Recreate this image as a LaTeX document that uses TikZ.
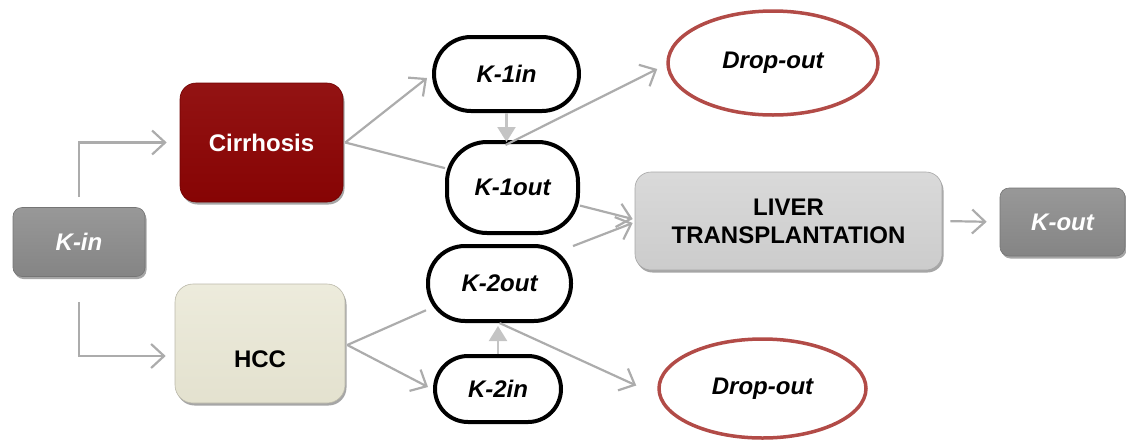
\documentclass[tikz,border=0pt]{standalone}
\usepackage{fontspec}
\setmainfont{Liberation Sans}
\usetikzlibrary{arrows.meta,shapes.geometric,shadows}
\definecolor{arrowgray}{RGB}{172,172,172}
\definecolor{tipgray}{RGB}{196,196,196}
\definecolor{kgray}{RGB}{138,138,138}
\definecolor{cirred}{RGB}{140,4,4}
\definecolor{hccbeige}{RGB}{232,230,211}
\definecolor{livergray}{RGB}{208,208,208}
\definecolor{dropred}{RGB}{178,75,71}
\tikzset{
  base/.style={inner sep=0pt, font=\fontsize{24}{28}\selectfont\bfseries, align=center},
  boxshadow/.style={drop shadow={shadow xshift=1.5pt, shadow yshift=-2.5pt, opacity=0.35, fill=black}},
  graybox/.style={base, boxshadow, rounded corners=9pt, top color=kgray!88!white, bottom color=kgray!96!black, draw=kgray!85!black, line width=0.6pt, text=white, font=\fontsize{24}{28}\selectfont\bfseries\itshape},
  cirbox/.style={base, boxshadow, rounded corners=16pt, top color=cirred!94!white, bottom color=cirred!96!black, draw=cirred!80!black, line width=0.6pt, text=white},
  hccbox/.style={base, boxshadow, rounded corners=18pt, top color=hccbeige!80!white, bottom color=hccbeige!98!black, draw=hccbeige!80!black, line width=0.6pt},
  liverbox/.style={base, boxshadow, rounded corners=16pt, top color=livergray!80!white, bottom color=livergray!98!black, draw=livergray!80!black, line width=0.6pt},
  kstate/.style={base, draw=black, line width=4pt, fill=white, font=\fontsize{24}{28}\selectfont\bfseries\itshape},
  dropbox/.style={base, ellipse, draw=dropred, line width=3.5pt, fill=white, font=\fontsize{24}{28}\selectfont\bfseries\itshape},
  conn/.style={draw=arrowgray, line width=2.2pt},
  opentip/.style={conn, -{Straight Barb[length=13pt,width=24pt,line width=2.2pt]}},
  filltip/.style={conn, draw=tipgray, -{Triangle[length=15pt,width=18pt,fill=tipgray]}}
}
\begin{document}
\begin{tikzpicture}[x=1pt,y=-1pt]
\useasboundingbox (0,0) rectangle (1126,445);

% boxes
\node[graybox, minimum width=132pt, minimum height=69pt] (kin) at (79,242) {K-in};
\node[cirbox, minimum width=163pt, minimum height=119pt] (cir) at (261.5,142.5) {Cirrhosis};
\node[hccbox, minimum width=170pt, minimum height=119pt,
      label={[base, yshift=-15.5pt]center:HCC}] (hcc) at (260,343.5) {};
\node[liverbox, minimum width=307pt, minimum height=98pt] (liver) at (788.5,221) {LIVER\\TRANSPLANTATION};
\node[graybox, minimum width=125pt, minimum height=68pt] (kout) at (1062.5,222) {K-out};

% K states
\node[kstate, minimum width=145pt, minimum height=74pt, rounded corners=37pt] (k1in) at (506.5,74) {K-1in};
\node[kstate, minimum width=131pt, minimum height=91pt, rounded corners=40pt] (k1out) at (512.5,187.5) {K-1out};
\node[kstate, minimum width=143pt, minimum height=75pt, rounded corners=37pt] (k2out) at (499.5,283.5) {K-2out};
\node[kstate, minimum width=126pt, minimum height=66pt, rounded corners=33pt] (k2in) at (498,389) {K-2in};

% drop-outs
\node[dropbox, minimum width=210pt, minimum height=104pt] (drop1) at (773,63) {Drop-out};
\node[dropbox, minimum width=207pt, minimum height=99pt] (drop2) at (762.5,388.5) {Drop-out};

% connectors
\draw[opentip] ([yshift=10pt]kin.north) |- ([xshift=-13pt]cir.west);
\draw[opentip] ([yshift=-25pt]kin.south) |- ([xshift=-9pt,yshift=-12.5pt]hcc.west);

\draw[opentip] ([xshift=2pt]cir.east) -- ([xshift=-5pt,yshift=-4pt]k1in.west);
\draw[conn] ([xshift=2pt]cir.east) -- (k1out.164);
\draw[filltip] (k1in.south) -- ([yshift=-2pt]k1in.south |- k1out.north);
\draw[opentip] ([xshift=-7pt,yshift=-5pt]k1out.north) -- ([xshift=-9pt,yshift=-6pt]drop1.west);
\draw[opentip] (k1out.-15) -- ([xshift=-2pt,yshift=2pt]liver.west);
\draw[opentip] (k2out.27) -- ([xshift=-2pt,yshift=-2pt]liver.west);

\draw[conn] ([xshift=2pt,yshift=-1.5pt]hcc.east) -- (k2out.200);
\draw[opentip] ([xshift=2pt,yshift=-1.5pt]hcc.east) -- ([xshift=-5pt,yshift=2pt]k2in.west);
\draw[filltip] (k2in.north) -- ([yshift=-3pt]k2in.north |- k2out.south);
\draw[opentip] (k2out.south) -- ([xshift=-21pt,yshift=3pt]drop2.west);

\draw[opentip, shorten <=8pt, shorten >=13pt] (liver.east) -- (kout.west);
\end{tikzpicture}
\end{document}
